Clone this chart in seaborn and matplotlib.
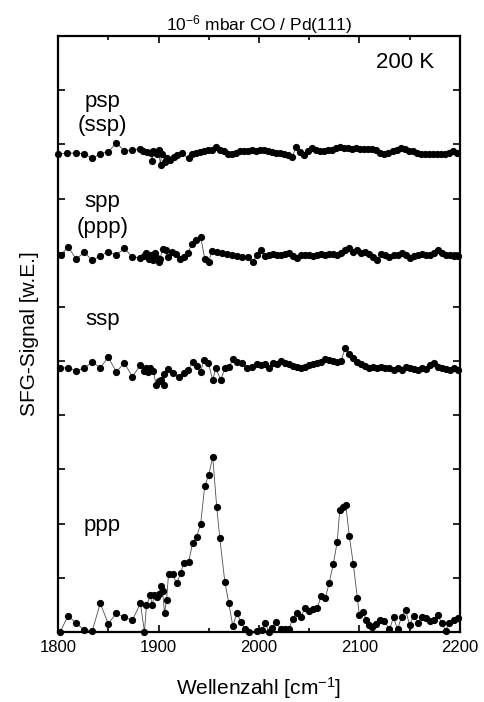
import numpy as np
import pandas as pd
import seaborn as sns
import matplotlib.pyplot as plt
from matplotlib.ticker import MultipleLocator

# SFG spectra, CO on Pd(111) at 200 K, stacked traces (y in tick units)

# ppp
ppp_x = [1802, 1810, 1818, 1826, 1834, 1842, 1850, 1858, 1866, 1874,
         1882, 1886, 1888, 1892, 1893.5, 1896, 1898, 1900.5, 1902, 1904,
         1906, 1908, 1910, 1914, 1918, 1922, 1925, 1930, 1934, 1938,
         1942, 1946, 1950, 1954, 1958, 1961, 1966, 1970, 1974, 1978,
         1982, 1986, 1990, 1998, 2003, 2006, 2010, 2013, 2017, 2021.5,
         2026, 2030, 2033.5, 2037.5, 2041.5, 2046, 2050, 2054, 2058, 2062,
         2066, 2070, 2074, 2078, 2080.5, 2084, 2086.5, 2090, 2094, 2098,
         2100, 2104, 2106.5, 2110, 2113, 2117, 2121, 2125, 2130, 2134,
         2138, 2142, 2146, 2150, 2154, 2158, 2162, 2166, 2170, 2174,
         2178, 2182, 2186, 2189, 2194, 2198]
ppp_y = [0.0, 0.30, 0.16, 0.04, 0.02, 0.53, 0.15, 0.35, 0.27, 0.22,
         0.53, 0.0, 0.49, 0.68, 0.49, 0.68, 0.64, 0.71, 0.85, 0.76,
         0.35, 0.59, 1.07, 1.07, 0.90, 1.08, 1.27, 1.29, 1.65, 1.76,
         2.00, 2.69, 2.90, 3.23, 2.30, 1.74, 0.93, 0.53, 0.11, 0.35,
         0.19, 0.05, 0.0, 0.02, 0.04, 0.17, 0.0, 0.07, 0.19, 0.05,
         0.05, 0.06, 0.24, 0.35, 0.27, 0.45, 0.39, 0.42, 0.45, 0.66,
         0.62, 0.91, 1.25, 1.67, 2.26, 2.30, 2.34, 1.77, 1.25, 0.63,
         0.31, 0.37, 0.23, 0.13, 0.10, 0.15, 0.22, 0.20, 0.05, 0.27,
         0.05, 0.28, 0.41, 0.13, 0.30, 0.17, 0.27, 0.26, 0.20, 0.22,
         0.31, 0.17, 0.02, 0.17, 0.23, 0.25]

# common fine grid of the later scans
grid_x = [2002, 2006, 2010, 2014, 2018, 2022, 2026, 2030, 2034, 2038,
          2042, 2046, 2050, 2054, 2058, 2062, 2066, 2070, 2074, 2078,
          2082, 2086, 2090, 2094, 2098, 2102, 2106, 2110, 2114, 2118,
          2122, 2126, 2130, 2134, 2138, 2142, 2146, 2150, 2154, 2158,
          2162, 2166, 2170, 2174, 2178, 2182, 2186, 2190, 2194, 2198]

# ssp
ssp_x = [1802, 1810, 1818, 1826, 1834, 1842, 1850, 1858, 1866, 1874,
         1882, 1885.5, 1887.5, 1890, 1892, 1895, 1897.5, 1900, 1902, 1905,
         1905.5, 1909, 1914, 1920, 1925.5, 1929.5, 1934, 1938, 1942,
         1945, 1949.5, 1954, 1957, 1962, 1966, 1970.5, 1974, 1978, 1983,
         1988, 1993, 1998] + grid_x
ssp_y = [4.87, 4.88, 4.82, 4.87, 4.98, 4.88, 5.07, 4.80, 4.97, 4.71,
         4.93, 4.82, 4.87, 4.80, 4.87, 4.82, 4.56, 4.64, 4.65, 4.56,
         4.77, 4.85, 4.78, 4.70, 4.78, 4.83, 4.99, 4.91, 4.80,
         5.02, 4.97, 4.65, 4.87, 4.65, 4.87, 4.90, 5.03, 4.98, 4.96,
         4.87, 4.90, 4.94,
         4.93, 4.95, 4.87, 4.96, 4.95, 5.00, 4.97, 4.94, 4.91, 4.90,
         4.87, 4.90, 4.93, 4.95, 4.96, 4.99, 5.04, 5.02, 5.00, 4.99,
         5.01, 5.25, 5.14, 5.05, 4.99, 4.95, 4.91, 4.88, 4.90, 4.87,
         4.90, 4.88, 4.87, 4.83, 4.87, 4.84, 4.90, 4.87, 4.85, 4.84,
         4.87, 4.86, 4.93, 4.96, 4.90, 4.87, 4.85, 4.84, 4.87, 4.84]

# spp (ppp)
spp_x = [1802.7, 1810, 1818, 1826, 1834, 1842, 1850, 1858, 1866, 1874,
         1882, 1885.5, 1888, 1891, 1893, 1895, 1896.5, 1898, 1900, 1901.5,
         1904, 1907.5, 1909, 1913, 1917.5, 1921, 1925.5, 1929.5, 1933, 1937,
         1942, 1946, 1950, 1953, 1958, 1963, 1968, 1973, 1978, 1983,
         1989, 1994, 1998] + grid_x
spp_y = [6.96, 7.11, 6.88, 7.01, 6.86, 6.94, 7.02, 6.96, 7.08, 6.92,
         6.91, 6.94, 6.99, 6.89, 6.96, 6.86, 6.99, 6.91, 6.83, 6.89,
         7.06, 7.05, 6.92, 7.02, 6.97, 6.88, 6.92, 6.99, 7.17, 7.23,
         7.29, 6.89, 6.83, 7.03, 7.02, 6.99, 6.97, 6.96, 6.94, 6.92,
         6.92, 6.83, 6.96,
         7.05, 6.94, 6.96, 6.97, 6.95, 6.96, 6.97, 6.99, 6.94, 6.90,
         6.95, 6.96, 6.95, 6.94, 6.96, 6.98, 6.96, 6.97, 6.97, 6.95,
         6.99, 7.05, 7.09, 7.02, 7.05, 7.00, 7.01, 6.97, 6.92, 6.86,
         6.97, 6.96, 6.92, 6.95, 6.96, 6.99, 6.95, 6.91, 6.94, 6.96,
         6.97, 6.95, 6.96, 7.00, 7.05, 6.99, 6.96, 6.95, 6.94, 6.94]

# psp (ssp)
psp_x = [1800, 1809, 1818, 1826, 1834, 1842, 1850, 1858, 1866, 1874,
         1882, 1885, 1889, 1893, 1893.5, 1895, 1898, 1900, 1902, 1903,
         1906, 1908, 1911, 1915, 1918, 1923, 1930, 1933,
         1937, 1941, 1945, 1949, 1953, 1957, 1961, 1965, 1969, 1973,
         1977, 1981, 1985, 1989, 1993, 1997, 2001, 2005, 2009, 2013,
         2017, 2021, 2025, 2029, 2033, 2037, 2041, 2045, 2049, 2053,
         2057, 2061, 2065, 2069, 2073, 2077, 2081, 2085, 2089, 2093,
         2097, 2101, 2105, 2109, 2113, 2117, 2121, 2125, 2129, 2133,
         2137, 2141, 2145, 2149, 2153, 2157, 2161, 2165, 2169, 2173,
         2177, 2181, 2185, 2189, 2193, 2197]
psp_y = [8.82, 8.84, 8.84, 8.83, 8.74, 8.83, 8.86, 9.03, 8.88, 8.90,
         8.92, 8.88, 8.86, 8.84, 8.70, 8.88, 8.83, 8.89, 8.62, 8.83,
         8.68, 8.74, 8.72, 8.77, 8.80, 8.84, 8.74, 8.82,
         8.85, 8.86, 8.87, 8.89, 8.90, 8.95, 8.90, 8.88, 8.82, 8.83,
         8.85, 8.87, 8.88, 8.88, 8.89, 8.87, 8.89, 8.89, 8.88, 8.86,
         8.85, 8.85, 8.83, 8.81, 8.77, 8.95, 8.86, 8.80, 8.88, 8.94,
         8.90, 8.88, 8.88, 8.89, 8.90, 8.94, 8.95, 8.94, 8.93, 8.92,
         8.94, 8.92, 8.91, 8.91, 8.92, 8.89, 8.85, 8.82, 8.84, 8.87,
         8.89, 8.94, 8.91, 8.88, 8.87, 8.85, 8.83, 8.82, 8.83, 8.82,
         8.82, 8.82, 8.83, 8.84, 8.88, 8.84]

traces = [(ppp_x, ppp_y), (ssp_x, ssp_y), (spp_x, spp_y), (psp_x, psp_y)]

sns.set_theme(style='ticks')
plt.rcParams['font.family'] = ['Liberation Sans', 'DejaVu Sans']
plt.rcParams['mathtext.default'] = 'regular'
plt.rcParams['text.color'] = 'black'
plt.rcParams['axes.labelcolor'] = 'black'

fig = plt.figure(figsize=(4.84, 7.02), dpi=100)
ax = fig.add_axes([0.12, 0.0997, 0.83, 0.849])

for xs, ys in traces:
    sns.lineplot(x=xs, y=ys, ax=ax, estimator=None, sort=True,
                 color='0.3', lw=0.6, marker='o', markersize=5.2,
                 markerfacecolor='black', markeredgecolor='black',
                 markeredgewidth=0, clip_on=False)

ax.set_xlim(1800, 2200)
ax.set_ylim(0, 11)
ax.xaxis.set_major_locator(MultipleLocator(100))
ax.xaxis.set_minor_locator(MultipleLocator(50))
ax.set_yticks(range(12))
ax.set_yticklabels([])
ax.tick_params(axis='both', which='both', direction='in', top=True, right=True,
               width=1.2, colors='black')
ax.tick_params(axis='both', which='major', length=5)
ax.tick_params(axis='x', which='minor', length=3)
ax.tick_params(axis='x', which='major', labelsize=12, pad=6)
for s in ax.spines.values():
    s.set_linewidth(1.6)
    s.set_color('black')

ax.set_xlabel('Wellenzahl [cm$^{-1}$]', fontsize=15, labelpad=14)
ax.set_ylabel('SFG-Signal [w.E.]', fontsize=15, labelpad=10)
ax.set_title('10$^{-6}$ mbar CO / Pd(111)', fontsize=12.5, pad=4)

lab = dict(fontsize=16, ha='center', va='center')
ax.text(2145, 10.52, '200 K', **lab)
ax.text(1844, 9.80, 'psp', **lab)
ax.text(1844, 9.35, '(ssp)', **lab)
ax.text(1844, 7.95, 'spp', **lab)
ax.text(1844, 7.47, '(ppp)', **lab)
ax.text(1844, 5.76, 'ssp', **lab)
ax.text(1844, 1.97, 'ppp', **lab)

fig.savefig('out.png', dpi=100)
